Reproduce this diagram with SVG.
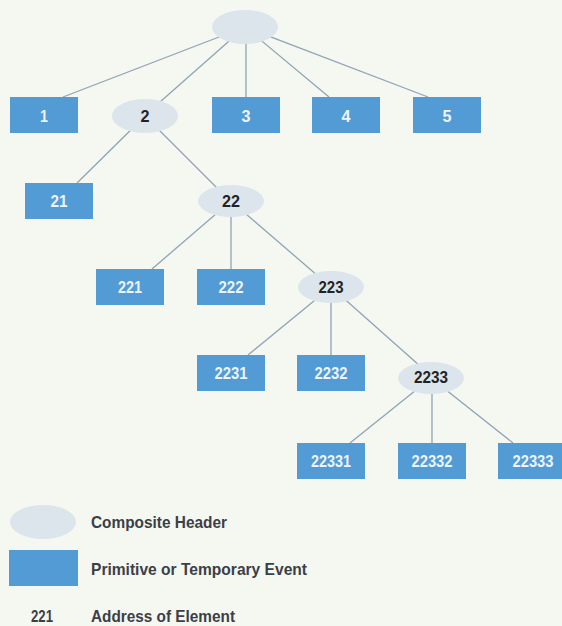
<svg xmlns="http://www.w3.org/2000/svg" width="562" height="626" viewBox="0 0 562 626">
<style>
.bg{fill:#f5f7f1}
.box{fill:#539bd5}
.hdr{fill:#dce5ec}
.edge{stroke:#8fa4b6;stroke-width:1.3;fill:none}
.t{font-family:"Liberation Sans Narrow","Liberation Sans",Arial,sans-serif;font-weight:bold;font-size:17px;text-anchor:middle}
.tb{fill:#eef4fa}
.te{fill:#1f2328}
.lg{font-family:"Liberation Sans Narrow","Liberation Sans",Arial,sans-serif;font-weight:bold;font-size:17px;fill:#3b4046}
</style>
<rect class="bg" x="0" y="0" width="562" height="626"/>
<g id="connectors">
<line class="edge" x1="245" y1="27" x2="63" y2="97"/>
<line class="edge" x1="245" y1="27" x2="160" y2="102"/>
<line class="edge" x1="246" y1="27" x2="246" y2="97"/>
<line class="edge" x1="245" y1="27" x2="329" y2="97"/>
<line class="edge" x1="245" y1="27" x2="428" y2="97"/>
<line class="edge" x1="145" y1="116" x2="77" y2="183"/>
<line class="edge" x1="145" y1="116" x2="217" y2="188"/>
<line class="edge" x1="231" y1="201" x2="152" y2="269"/>
<line class="edge" x1="231" y1="201" x2="231" y2="269"/>
<line class="edge" x1="231" y1="201" x2="318" y2="276"/>
<line class="edge" x1="331" y1="287" x2="248" y2="355"/>
<line class="edge" x1="331" y1="287" x2="331" y2="355"/>
<line class="edge" x1="331" y1="287" x2="420" y2="366"/>
<line class="edge" x1="431" y1="378" x2="350" y2="443"/>
<line class="edge" x1="432" y1="378" x2="432" y2="443"/>
<line class="edge" x1="431" y1="378" x2="513" y2="443"/>
</g>
<g id="n0"><ellipse class="hdr" cx="245" cy="27" rx="33" ry="17"/></g>
<g id="n1"><rect class="box" x="10" y="97" width="68" height="36"/><text class="t tb" x="44" y="122" textLength="8" lengthAdjust="spacingAndGlyphs">1</text></g>
<g id="n2"><ellipse class="hdr" cx="145" cy="116" rx="33" ry="17"/><text class="t te" x="145" y="122" textLength="9" lengthAdjust="spacingAndGlyphs">2</text></g>
<g id="n3"><rect class="box" x="212" y="97" width="68" height="36"/><text class="t tb" x="246" y="122" textLength="9" lengthAdjust="spacingAndGlyphs">3</text></g>
<g id="n4"><rect class="box" x="312" y="97" width="68" height="36"/><text class="t tb" x="346" y="122" textLength="9" lengthAdjust="spacingAndGlyphs">4</text></g>
<g id="n5"><rect class="box" x="413" y="97" width="68" height="36"/><text class="t tb" x="447" y="122" textLength="9" lengthAdjust="spacingAndGlyphs">5</text></g>
<g id="n21"><rect class="box" x="25" y="183" width="68" height="36"/><text class="t tb" x="59" y="207" textLength="17" lengthAdjust="spacingAndGlyphs">21</text></g>
<g id="n22"><ellipse class="hdr" cx="231" cy="201" rx="33" ry="16"/><text class="t te" x="231" y="207" textLength="18" lengthAdjust="spacingAndGlyphs">22</text></g>
<g id="n221"><rect class="box" x="96" y="269" width="68" height="36"/><text class="t tb" x="130" y="293" textLength="24" lengthAdjust="spacingAndGlyphs">221</text></g>
<g id="n222"><rect class="box" x="197" y="269" width="68" height="36"/><text class="t tb" x="231" y="293" textLength="25" lengthAdjust="spacingAndGlyphs">222</text></g>
<g id="n223"><ellipse class="hdr" cx="331" cy="287" rx="33" ry="16"/><text class="t te" x="331" y="293" textLength="25" lengthAdjust="spacingAndGlyphs">223</text></g>
<g id="n2231"><rect class="box" x="197" y="355" width="68" height="36"/><text class="t tb" x="231" y="379" textLength="33" lengthAdjust="spacingAndGlyphs">2231</text></g>
<g id="n2232"><rect class="box" x="297" y="355" width="68" height="36"/><text class="t tb" x="331" y="379" textLength="33" lengthAdjust="spacingAndGlyphs">2232</text></g>
<g id="n2233"><ellipse class="hdr" cx="431" cy="378" rx="33" ry="16"/><text class="t te" x="431" y="383" textLength="34" lengthAdjust="spacingAndGlyphs">2233</text></g>
<g id="n22331"><rect class="box" x="297" y="443" width="68" height="36"/><text class="t tb" x="331" y="467" textLength="40" lengthAdjust="spacingAndGlyphs">22331</text></g>
<g id="n22332"><rect class="box" x="398" y="443" width="68" height="36"/><text class="t tb" x="432" y="467" textLength="41" lengthAdjust="spacingAndGlyphs">22332</text></g>
<g id="n22333"><rect class="box" x="498" y="443" width="68" height="36"/><text class="t tb" x="533" y="467" textLength="41" lengthAdjust="spacingAndGlyphs">22333</text></g>
<g id="legend">
<ellipse class="hdr" cx="43" cy="522" rx="33" ry="17"/>
<text class="lg" x="91" y="528" textLength="136" lengthAdjust="spacingAndGlyphs">Composite Header</text>
<rect class="box" x="9" y="550" width="69" height="36"/>
<text class="lg" x="91" y="575" textLength="216" lengthAdjust="spacingAndGlyphs">Primitive or Temporary Event</text>
<text class="lg" x="31" y="622" textLength="22" lengthAdjust="spacingAndGlyphs">221</text>
<text class="lg" x="91" y="622" textLength="144" lengthAdjust="spacingAndGlyphs">Address of Element</text>
</g>
</svg>
